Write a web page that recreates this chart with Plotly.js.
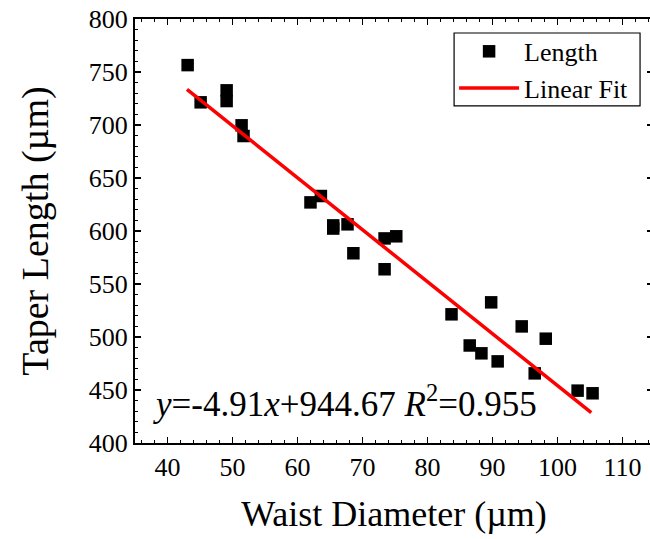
<!DOCTYPE html>
<html>
<head>
<meta charset="utf-8">
<script src="https://cdn.plot.ly/plotly-3.0.1.min.js"></script>
<style>
html,body{margin:0;padding:0;overflow:hidden;background:#fff;}
#plot{width:660px;height:539px;}
</style>
</head>
<body>
<div id="plot"></div>
<script>
const waistDiameter = [43.1, 45.1, 49.1, 49.1, 51.4, 51.7, 62.0, 63.6, 65.5, 65.5, 67.7, 68.6, 73.4, 75.2, 73.4, 83.7, 89.8, 86.5, 88.3, 90.8, 94.5, 98.2, 96.5, 103.1, 105.4];
const taperLength  = [756.5, 721.4, 732.7, 722.6, 699.7, 689.6, 627.0, 633.0, 605.3, 602.3, 606.3, 579.0, 593.0, 595.0, 563.9, 521.4, 532.7, 492.0, 484.6, 477.0, 510.0, 498.4, 465.7, 449.4, 446.9];
// Linear fit end points
const fitX = [43.0, 105.2];
const fitY = [733.6, 428.6];
const xTickVals = [40, 50, 60, 70, 80, 90, 100, 110];
const yTickVals = [400, 450, 500, 550, 600, 650, 700, 750, 800];
const fitLabel = '<i>y</i>=-4.91<i>x</i>+944.67 <i>R</i><sup>2</sup>=0.955';

const FONT = '"Liberation Serif", "Times New Roman", serif';

const traces = [
  {
    x: waistDiameter, y: taperLength, type: 'scatter', mode: 'markers', name: 'Length',
    marker: {symbol: 'square', size: 12.5, color: '#000000'}
  },
  {
    x: fitX, y: fitY, type: 'scatter', mode: 'lines', name: 'Linear Fit',
    line: {color: '#ff0000', width: 3.5}
  }
];

function axisBase() {
  return {
    showline: true, linecolor: '#000', linewidth: 2, mirror: 'ticks',
    ticks: 'inside', ticklen: 6, tickwidth: 1.5, tickcolor: '#000',
    showgrid: false, zeroline: false,
    tickfont: {family: FONT, size: 26, color: '#000'}
  };
}

const layout = {
  width: 660, height: 539,
  margin: {l: 135, r: 7, t: 19, b: 96},
  paper_bgcolor: '#fff', plot_bgcolor: '#fff',
  showlegend: true,
  font: {family: FONT, color: '#000'},
  xaxis: Object.assign(axisBase(), {
    range: [35, 114.7], tickmode: 'array', tickvals: xTickVals,
    minor: {dtick: 2, ticks: 'inside', ticklen: 3, tickwidth: 1.2, tickcolor: '#000', showgrid: false},
    title: {text: 'Waist Diameter (µm)', font: {family: FONT, size: 36, color: '#000'}, standoff: 20}
  }),
  yaxis: Object.assign(axisBase(), {
    range: [400, 800], tickmode: 'array', tickvals: yTickVals,
    minor: {dtick: 10, ticks: 'inside', ticklen: 3, tickwidth: 1.2, tickcolor: '#000', showgrid: false},
    title: {text: 'Taper Length (µm)\u00a0\u00a0', font: {family: FONT, size: 38, color: '#000'}, standoff: 28}
  }),
  legend: {
    x: 0.616, y: 0.979, xanchor: 'left', yanchor: 'top',
    bgcolor: 'rgba(0,0,0,0)', borderwidth: 0,
    font: {family: FONT, size: 26, color: '#000'},
    itemwidth: 60, tracegroupgap: 0
  },
  shapes: [{
    type: 'rect', xref: 'paper', yref: 'paper', layer: 'above',
    x0: 0.616, x1: 0.975, y0: 0.795, y1: 0.967,
    line: {color: '#000', width: 1.2}, fillcolor: 'rgba(255,255,255,0)'
  }],
  annotations: [{
    xref: 'paper', yref: 'paper', x: 0.03, y: 0.04, xanchor: 'left', yanchor: 'bottom',
    text: fitLabel, showarrow: false,
    font: {family: FONT, size: 35, color: '#000'}
  }]
};

Plotly.newPlot('plot', traces, layout, {displayModeBar: false, staticPlot: true});
</script>
</body>
</html>
